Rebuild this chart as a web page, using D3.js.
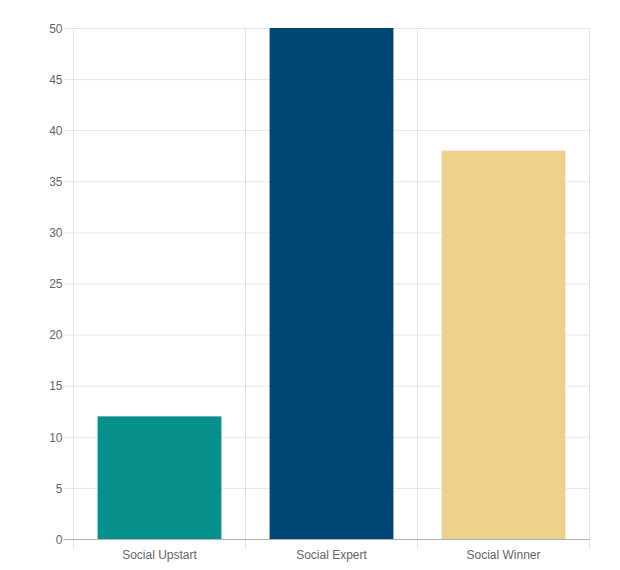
<!DOCTYPE html>
<html><head><meta charset="utf-8">
<script src="https://cdn.jsdelivr.net/npm/d3@7"></script>
<style>body{margin:0;background:#fff}text{font-family:"Liberation Sans",Arial,Helvetica,sans-serif}</style>
</head><body><svg id="c" width="620" height="570"></svg>
<script>
const categories = ["Social Upstart", "Social Expert", "Social Winner"];
const values = [12, 50, 38];
const colors = ["#068f8b", "#004675", "#eed28c"];
const yTicks = [0, 5, 10, 15, 20, 25, 30, 35, 40, 45, 50];

const svg = d3.select("#c");
const L = 73.5, R = 589.5, T = 28.5, B = 539.5;
const x = d3.scaleBand().domain(categories).range([L, R]).paddingInner(0).paddingOuter(0);
const y = d3.scaleLinear().domain([0, 50]).range([B, T]);

// horizontal grid + ticks
const g = svg.append("g");
yTicks.forEach(t => {
  if (t !== 0) {
    g.append("line").attr("x1", L - 10).attr("x2", R).attr("y1", y(t)).attr("y2", y(t))
      .attr("stroke", "rgba(0,0,0,0.1)").attr("stroke-width", 1);
  }
  g.append("text").attr("x", L - 11).attr("y", y(t)).attr("dy", "0.35em")
    .attr("text-anchor", "end").attr("font-size", 12).attr("fill", "#666").text(t);
});
// vertical grid lines at category boundaries
const bounds = categories.map(c => x(c)).concat([R]);
bounds.forEach(bx => {
  g.append("line").attr("x1", bx).attr("x2", bx).attr("y1", T).attr("y2", B + 10)
    .attr("stroke", "rgba(0,0,0,0.1)").attr("stroke-width", 1);
});

// bars
const bw = x.bandwidth() * 0.72;
svg.append("g").selectAll("rect").data(values).join("rect")
  .attr("x", (d, i) => x(categories[i]) + (x.bandwidth() - bw) / 2)
  .attr("width", bw)
  .attr("y", d => y(d) - 0.5)
  .attr("height", d => B - y(d))
  .attr("fill", (d, i) => colors[i]);

// zero line
svg.append("line").attr("x1", L - 10).attr("x2", R).attr("y1", y(0)).attr("y2", y(0))
  .attr("stroke", "rgba(0,0,0,0.3)").attr("stroke-width", 1);

// x labels
svg.append("g").selectAll("text").data(categories).join("text")
  .attr("x", d => x(d) + x.bandwidth() / 2).attr("y", 555).attr("dy", "0.35em")
  .attr("text-anchor", "middle").attr("font-size", 12).attr("fill", "#666").text(d => d);
</script></body></html>
